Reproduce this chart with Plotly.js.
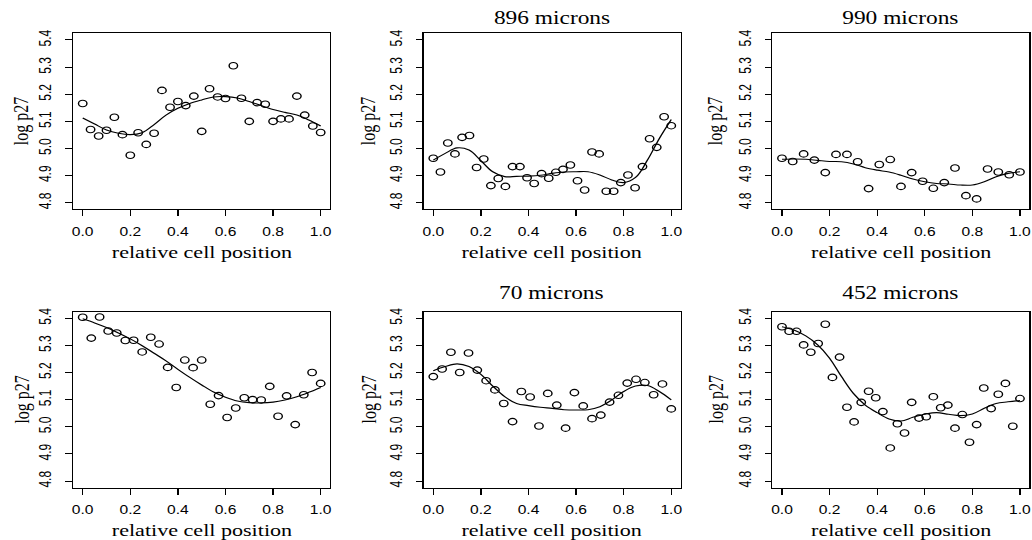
<!DOCTYPE html>
<html>
<head>
<meta charset="utf-8">
<script src="https://cdn.plot.ly/plotly-3.0.1.min.js"></script>
<style>
  html, body { margin: 0; padding: 0; background: #fff; overflow: hidden; }
  #plot { width: 794px; height: 540px; transform: scaleX(1.2997); transform-origin: 0 0; }
</style>
</head>
<body>
<div id="plot"></div>
<script>
// ---- data ----
const panelTitles = ["", "896 microns", "990 microns", "", "70 microns", "452 microns"];

const x1 = [0,.033,.067,.1,.133,.167,.2,.233,.267,.3,.333,.367,.4,.433,.467,.5,.533,.567,.6,.633,.667,.7,.733,.767,.8,.833,.867,.9,.933,.967,1];
const y1 = [5.166,5.070,5.046,5.067,5.115,5.051,4.975,5.058,5.015,5.056,5.214,5.152,5.173,5.158,5.193,5.063,5.220,5.190,5.184,5.305,5.185,5.100,5.169,5.163,5.100,5.109,5.109,5.193,5.123,5.083,5.059];

const x2 = [0,.030,.061,.091,.121,.152,.182,.212,.242,.273,.303,.333,.364,.394,.424,.455,.485,.515,.545,.576,.606,.636,.667,.697,.727,.758,.788,.818,.848,.879,.909,.939,.970,1];
const y2 = [4.964,4.913,5.020,4.980,5.041,5.048,4.930,4.961,4.863,4.889,4.860,4.933,4.933,4.892,4.871,4.907,4.890,4.912,4.923,4.939,4.881,4.847,4.987,4.980,4.842,4.842,4.874,4.902,4.855,4.933,5.036,5.004,5.117,5.084];

const x3 = [0,.045,.091,.136,.182,.227,.273,.318,.364,.409,.455,.5,.545,.591,.636,.682,.727,.773,.818,.864,.909,.955,1];
const y3 = [4.964,4.952,4.980,4.957,4.911,4.978,4.978,4.951,4.852,4.941,4.959,4.860,4.911,4.879,4.853,4.874,4.928,4.826,4.814,4.924,4.913,4.903,4.913];

const x4 = [0,.036,.071,.107,.143,.179,.214,.25,.286,.321,.357,.393,.429,.464,.5,.536,.571,.607,.643,.679,.714,.75,.786,.821,.857,.893,.929,.964,1];
const y4 = [5.404,5.327,5.405,5.353,5.346,5.318,5.319,5.276,5.330,5.305,5.219,5.145,5.246,5.218,5.246,5.083,5.115,5.034,5.069,5.107,5.100,5.099,5.149,5.039,5.114,5.008,5.118,5.200,5.160];

const x5 = [0,.037,.074,.111,.148,.185,.222,.259,.296,.333,.370,.407,.444,.481,.519,.556,.593,.630,.667,.704,.741,.778,.815,.852,.889,.926,.963,1];
const y5 = [5.185,5.213,5.275,5.200,5.272,5.209,5.170,5.136,5.086,5.019,5.130,5.110,5.003,5.123,5.080,4.995,5.126,5.077,5.030,5.043,5.091,5.116,5.161,5.175,5.163,5.118,5.158,5.066];

const x6 = [0,.030,.061,.091,.121,.152,.182,.212,.242,.273,.303,.333,.364,.394,.424,.455,.485,.515,.545,.576,.606,.636,.667,.697,.727,.758,.788,.818,.848,.879,.909,.939,.970,1];
const y6 = [5.369,5.352,5.352,5.302,5.275,5.307,5.378,5.182,5.257,5.072,5.018,5.090,5.131,5.107,5.056,4.922,5.011,4.977,5.090,5.032,5.037,5.111,5.070,5.080,4.995,5.045,4.943,5.008,5.143,5.067,5.120,5.160,5.002,5.104];

// smooth curves, read at these positions
const curveX = [0,.05,.1,.15,.2,.25,.3,.35,.4,.45,.5,.55,.6,.65,.7,.75,.8,.85,.9,.95,1];
const curve1 = [5.112,5.090,5.068,5.056,5.051,5.058,5.088,5.123,5.148,5.166,5.179,5.190,5.191,5.186,5.173,5.158,5.144,5.133,5.123,5.105,5.083];
const curve2 = [4.957,4.982,5.002,4.994,4.955,4.914,4.896,4.897,4.898,4.901,4.908,4.913,4.914,4.914,4.902,4.884,4.874,4.893,4.957,5.037,5.107];
const curve3 = [4.960,4.961,4.960,4.956,4.952,4.951,4.943,4.929,4.920,4.913,4.901,4.887,4.877,4.871,4.869,4.865,4.865,4.877,4.896,4.908,4.914];
const curve4 = [5.398,5.383,5.366,5.346,5.324,5.299,5.271,5.243,5.212,5.182,5.154,5.128,5.109,5.095,5.089,5.088,5.091,5.099,5.111,5.127,5.145];
const curve5 = [5.207,5.222,5.232,5.222,5.193,5.150,5.111,5.086,5.078,5.072,5.068,5.063,5.062,5.063,5.074,5.099,5.130,5.150,5.152,5.130,5.099];
const curve6 = [5.369,5.357,5.335,5.302,5.253,5.185,5.123,5.080,5.052,5.029,5.021,5.035,5.046,5.052,5.046,5.041,5.047,5.068,5.086,5.092,5.097];

const xTicks = [0, 0.2, 0.4, 0.6, 0.8, 1.0];
const xTickText = ["0.0", "0.2", "0.4", "0.6", "0.8", "1.0"];
const yTicks = [4.8, 4.9, 5.0, 5.1, 5.2, 5.3, 5.4];
const yTickText = ["4.8", "4.9", "5.0", "5.1", "5.2", "5.3", "5.4"];
const xLabel = "relative cell position";
const yLabel = "log p27";

// ---- build figure ----
const xs = [x1, x2, x3, x4, x5, x6];
const ys = [y1, y2, y3, y4, y5, y6];
const curves = [curve1, curve2, curve3, curve4, curve5, curve6];

const W = 1032;
const colDom = [[73.2, 330.2], [423.8, 680.8], [772.5, 1029.5]].map(d => [d[0] / W, d[1] / W]);
const rowDom = [[0.6126, 0.9380], [0.0972, 0.4226]];
const titleY = [0.9667, 0.4569];
const xlabY = [0.5333, 0.0180];
const ylabX = [22 / W, 369 / W, 716 / W];

const serif = "Liberation Serif, Times New Roman, serif";
const sans = "Liberation Sans, Arial, sans-serif";

const traces = [];
const layout = {
  width: 794, height: 540,
  margin: {l: 0, r: 0, t: 0, b: 0},
  paper_bgcolor: "#ffffff", plot_bgcolor: "#ffffff",
  showlegend: false,
  font: {family: sans, color: "#000"},
  annotations: []
};

for (let i = 0; i < 6; i++) {
  const r = Math.floor(i / 3), c = i % 3;
  const sfx = i === 0 ? "" : String(i + 1);
  const xa = "x" + sfx, ya = "y" + sfx;
  traces.push({
    x: curveX, y: curves[i], xaxis: xa, yaxis: ya, type: "scatter", mode: "lines",
    line: {color: "#000", width: 1.1, shape: "spline", smoothing: 1}, hoverinfo: "skip"
  });
  traces.push({
    x: xs[i], y: ys[i], xaxis: xa, yaxis: ya, type: "scatter", mode: "markers",
    marker: {symbol: "circle-open", size: 6.5, color: "#000", line: {width: 1.1, color: "#000"}}
  });
  layout["xaxis" + sfx] = {
    domain: colDom[c], anchor: ya, range: [-0.04, 1.04],
    tickvals: xTicks, ticktext: xTickText, ticks: "outside", ticklen: 6, tickwidth: 1, tickcolor: "#000",
    ticklabelstandoff: 5,
    showline: true, mirror: true, linecolor: "#000", linewidth: 1,
    showgrid: false, zeroline: false, fixedrange: true,
    tickfont: {family: sans, size: 12, color: "#000"}
  };
  layout["yaxis" + sfx] = {
    domain: rowDom[r], anchor: xa, range: [4.776, 5.424],
    tickvals: yTicks, ticktext: yTickText, ticks: "outside", ticklen: 5, tickwidth: 1, tickcolor: "#000",
    tickangle: -90, ticklabelstandoff: 6,
    showline: true, mirror: true, linecolor: "#000", linewidth: 1,
    showgrid: false, zeroline: false, fixedrange: true,
    tickfont: {family: sans, size: 12, color: "#000"}
  };
  const cx = (colDom[c][0] + colDom[c][1]) / 2;
  if (panelTitles[i]) {
    layout.annotations.push({
      text: panelTitles[i], xref: "paper", yref: "paper", x: cx, y: titleY[r],
      xanchor: "center", yanchor: "middle", showarrow: false,
      font: {family: serif, size: 18, color: "#000"}
    });
  }
  layout.annotations.push({
    text: xLabel, xref: "paper", yref: "paper", x: cx, y: xlabY[r],
    xanchor: "center", yanchor: "middle", showarrow: false,
    font: {family: serif, size: 17, color: "#000"}
  });
  layout.annotations.push({
    text: yLabel, xref: "paper", yref: "paper", x: ylabX[c], y: (rowDom[r][0] + rowDom[r][1]) / 2,
    xanchor: "center", yanchor: "middle", textangle: -90, showarrow: false,
    font: {family: serif, size: 16, color: "#000"}
  });
}

Plotly.newPlot("plot", traces, layout, {staticPlot: true, displayModeBar: false});
</script>
</body>
</html>
